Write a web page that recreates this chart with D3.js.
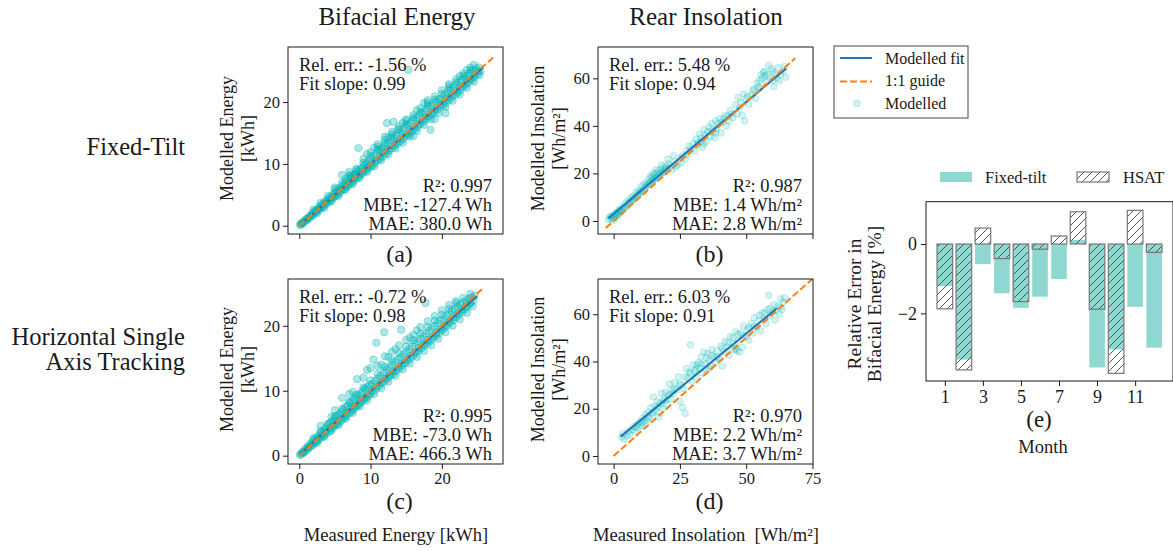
<!DOCTYPE html>
<html>
<head>
<meta charset="utf-8">
<script src="https://cdn.jsdelivr.net/npm/d3@7"></script>
<style>
  body { margin: 0; background: #fff; }
  svg { font-family: "Liberation Serif", "Times New Roman", serif; }
</style>
</head>
<body>
<script>
// ---- data ----

// (a) fixed-tilt bifacial energy [measured kWh, modelled kWh]
const fixedEnergy = [
  [0.1,0.2],[0.2,0.1],[0.3,0.4],[0.4,0.3],[0.6,0.5],[0.7,0.8],[0.9,0.8],[1.0,1.1],[1.2,1.0],[1.3,1.4],[1.5,1.3],[1.6,1.7],[1.8,1.6],[1.9,2.1],[2.1,1.9],[2.2,2.4],[2.4,2.2],[2.5,2.7],[2.7,2.5],[2.8,3.1],[3.0,2.8],[3.1,3.3],[3.3,3.0],[3.4,3.7],[3.6,3.4],[3.7,4.0],[3.9,3.6],[4.0,4.3],[4.2,3.9],[4.3,4.6],[4.5,4.2],[4.6,4.9],[4.8,4.5],[4.9,5.3],[5.1,4.8],
  [5.2,5.5],[5.4,5.0],[5.5,6.0],[5.7,5.4],[5.8,6.2],[6.0,5.7],[6.1,6.6],[6.3,5.9],[6.4,6.9],[6.6,6.2],[6.7,7.2],[6.9,6.5],[7.0,7.5],[7.2,6.8],[7.3,7.8],[7.5,7.1],[7.6,8.2],[7.8,7.4],[7.9,8.4],[8.1,7.7],[8.2,8.8],[8.4,8.0],[8.5,9.1],[8.7,8.3],[8.8,9.4],[9.0,8.6],[9.1,9.8],[9.3,8.9],[9.4,10.1],[9.6,9.2],[9.7,10.4],[9.9,9.5],
  [6.5,7.6],[7.2,8.2],[8.0,9.2],[5.0,6.2],[6.0,8.2],[8.3,12.55],[12.3,16.6],[18.4,15.5],[13.2,16.8],[15.3,25.2],
  [10.0,10.8],[10.2,9.7],[10.4,11.3],[10.6,10.1],[10.8,11.6],[11.0,10.5],[11.2,12.2],[11.4,10.9],[11.6,12.6],[11.8,11.3],[12.0,13.0],[12.2,11.7],[12.4,13.3],[12.6,12.1],[12.8,13.8],[13.0,12.5],[13.2,14.1],[13.4,12.9],[13.6,14.6],[13.8,13.3],[14.0,15.0],[14.2,13.7],[14.4,15.3],[14.6,14.0],[14.8,15.9],[15.0,14.5],[15.2,16.2],[15.4,14.8],[15.6,16.6],[15.8,15.2],[16.0,17.1],[16.2,15.6],[16.4,17.4],[16.6,16.0],[16.8,17.8],[17.0,16.4],[17.2,18.2],[17.4,16.8],[17.6,18.5],[17.8,17.2],[18.0,19.0],[18.2,17.6],[18.4,19.3],[18.6,18.0],[18.8,19.7],[19.0,18.4],[19.2,20.1],[19.4,18.8],[19.6,20.5],[19.8,19.2],
  [9.5,11.6],[10.5,12.6],[11.0,12.8],[12.0,13.9],[12.5,14.3],[13.0,14.8],[14.5,16.6],[15.0,17.0],[16.5,18.7],[17.5,19.8],[18.0,20.3],[13.8,15.6],[11.5,12.3],[16.0,14.5],[19.0,17.2],[20.5,18.2],
  [20.0,20.6],[20.2,19.5],[20.4,21.2],[20.6,19.9],[20.8,21.5],[21.0,20.3],[21.2,21.9],[21.4,20.8],[21.6,22.4],[21.8,21.1],[22.0,22.8],[22.2,21.5],[22.4,23.2],[22.6,21.9],[22.8,23.6],[23.0,22.4],[23.2,24.0],[23.4,22.8],[23.6,24.3],[23.8,23.2],[24.0,24.7],[24.2,23.6],[24.4,25.1],[24.6,24.0],[24.8,25.4],[25.0,24.5],[25.2,25.6],[25.4,25.0],[22.5,24.2],[23.5,25.2],[21.0,22.9],[24.5,26.0],
  [0.5,0.5],[1.1,1.05],[1.7,1.7],[2.3,2.3],[2.9,2.85],[3.5,3.5],[4.1,4.1],[4.7,4.65],[5.3,5.3],[5.9,5.85],[6.5,6.45],[7.1,7.05],[7.7,7.7],[8.3,8.25],[8.9,8.85],[9.5,9.4],[10.1,10.0],[10.7,10.6],[11.3,11.2],[11.9,11.8],[12.5,12.4],[13.1,13.0],[13.7,13.6],[14.3,14.2],[14.9,14.8],[15.5,15.4],[16.1,16.0],[16.7,16.5],[17.3,17.2],[17.9,17.7],[18.5,18.3],[19.1,18.9],[19.7,19.5],[20.3,20.1],[20.9,20.7],[21.5,21.3],[22.1,21.9],[22.7,22.5],[23.3,23.1],[23.9,23.7],[24.5,24.3],[25.1,24.9],
  [2.0,2.6],[3.0,3.7],[4.0,4.8],[5.0,5.9],[6.0,7.0],[7.0,8.1],[8.0,9.0],[9.0,10.2],[10.0,11.3],[11.0,12.3],[12.0,13.4],[13.0,14.4],[14.0,15.5],[15.0,16.4],[16.0,17.5],[17.0,18.4],[18.0,19.5],[19.0,20.4],[20.0,21.3],[21.0,22.2],[22.0,23.2],[23.0,24.2],[24.0,25.2],
  [2.5,2.0],[3.5,2.9],[4.5,3.9],[5.5,4.8],[6.5,5.8],[7.5,6.7],[8.5,7.7],[9.5,8.7],[10.5,9.6],[11.5,10.6],[12.5,11.5],[13.5,12.5],[14.5,13.4],[15.5,14.4],[16.5,15.3],[17.5,16.3],[18.5,17.2],[19.5,18.2],[20.5,19.2],[21.5,20.2],[22.5,21.2],[23.5,22.3],[24.5,23.3],[25.3,24.4],
  [7.0,8.7],[9.0,10.8],[10.0,11.9],[11.0,13.2],[12.0,14.4],[13.0,15.2],[14.0,16.1],[15.0,17.2],[16.0,17.9],[17.0,19.0],[18.0,19.9],[19.0,20.9],[20.0,21.9],[21.0,22.6],[22.0,23.7],[23.0,24.6],[24.0,25.6]
];

// (b) fixed-tilt rear insolation [measured Wh/m², modelled Wh/m²]
const fixedRear = [
  [-2.0,0.5],[-1.5,1.5],[-1.0,0.8],[-0.5,2.2],[0.0,1.2],[0.5,3.0],[1.0,2.0],[1.5,3.8],[2.0,3.0],[2.5,5.0],[3.0,4.0],[3.5,6.2],[4.0,5.5],[4.5,7.5],[5.0,6.5],[5.5,8.5],[6.0,7.6],[6.5,9.8],[7.0,8.8],[7.5,10.5],[8.0,9.6],[8.5,12.0],[9.0,10.8],[9.5,13.0],[10.0,11.8],[10.5,14.5],[11.0,12.6],[11.5,15.5],[12.0,14.2],[12.5,16.5],[13.0,15.2],[13.5,17.8],[14.0,16.3],[14.5,18.5],[15.0,17.2],[15.5,19.5],[16.0,18.0],[16.5,20.5],[17.0,19.2],[17.5,21.5],[18.0,20.0],[18.5,22.2],[19.0,20.5],[19.5,23.0],[20.0,21.5],[20.5,24.0],[21.0,22.3],[21.5,23.2],[22.0,21.5],[23.0,25.0],[23.5,22.8],[24.0,23.5],[25.0,26.5],[25.5,24.5],[26.0,27.5],[27.0,26.0],[27.5,29.5],[28.0,28.0],[28.5,31.5],[29.0,30.0],[30.0,32.5],[30.5,29.5],[31.0,34.5],[32.0,33.0],[32.5,36.5],[33.0,35.0],[33.5,31.0],[34.0,38.5],[34.5,36.0],[35.0,33.5],[36.0,39.5],[36.5,35.5],[37.0,41.0],[37.5,37.5],[38.0,35.0],[38.5,42.0],[39.0,39.0],[40.0,43.0],[40.5,37.0],[41.0,41.5],[42.0,44.5],[42.5,40.0],[43.0,44.0],[44.0,46.5],[45.0,43.5],[46.0,49.0],[46.5,45.0],[47.0,52.0],[48.0,50.0],[48.5,44.5],[49.0,53.5],[49.5,42.0],[50.0,51.5],[51.0,49.0],[52.0,53.0],[53.0,55.5],[53.5,51.5],[54.0,58.0],[55.0,56.0],[55.5,61.5],[56.0,60.0],[57.0,63.0],[57.5,58.5],[58.0,61.5],[58.5,65.5],[59.0,60.5],[60.0,63.0],[60.5,56.5],[61.0,62.0],[62.0,64.5],[62.5,59.0],[63.0,61.5],[64.0,63.0],[64.5,65.0],[65.0,60.5],[20.5,26.0],[22.5,27.5],[18.0,23.5],[16.0,21.5],[15.0,20.0],[14.0,19.0],
  [0.5,1.5],[1.5,2.5],[2.5,3.5],[3.5,4.8],[4.5,5.8],[5.5,7.0],[6.5,8.2],[7.5,9.0],[8.5,10.2],[9.5,11.5],[10.5,12.5],[11.5,13.5],[12.5,14.8],[13.5,15.8],[14.5,16.8],[15.5,17.8],[16.5,18.5],[17.5,19.8],[18.5,20.8],[19.5,21.8],[-1.0,2.0],[0.0,0.2],[1.0,3.2],[2.0,4.5],
  [31.5,32.0],[33.0,33.5],[34.0,32.5],[35.5,37.5],[37.0,38.5],[38.5,37.0],[39.5,41.0],[41.5,43.0],[43.5,42.0],[44.5,45.0],[47.5,47.5],[50.5,52.5],[52.5,55.0],[54.5,56.5],[56.5,62.5],[59.5,64.0],[61.5,60.0],[57.0,61.0],[55.0,59.0],[60.0,59.0]
];

// (c) HSAT bifacial energy [measured kWh, modelled kWh]
const hsatEnergy = [
  [0.1,0.1],[0.2,0.3],[0.4,0.3],[0.5,0.6],[0.7,0.5],[0.8,1.0],[1.0,0.8],[1.1,1.3],[1.3,1.1],[1.4,1.7],[1.6,1.4],[1.7,2.0],[1.9,1.6],[2.0,2.4],[2.2,1.9],[2.3,2.7],[2.5,2.2],[2.6,3.0],[2.8,2.5],[2.9,3.4],[3.1,2.8],[3.2,3.7],[3.4,3.0],[3.5,4.0],[3.7,3.3],[3.8,4.4],[4.0,3.6],[4.1,4.8],[4.3,3.9],[4.4,5.1],[4.6,4.2],[4.7,5.4],[4.9,4.5],[5.0,5.8],[5.2,4.8],
  [5.3,6.1],[5.5,5.0],[5.6,6.4],[5.8,5.3],[5.9,6.7],[6.1,5.6],[6.2,7.1],[6.4,5.9],[6.5,7.5],[6.7,6.2],[6.8,7.7],[7.0,6.5],[7.1,8.1],[7.3,6.8],[7.4,8.4],[7.6,7.1],[7.7,8.7],[7.9,7.4],[8.0,9.0],[8.2,7.7],[8.3,9.3],[8.5,8.0],[8.6,9.6],[8.8,8.3],[8.9,10.0],[9.1,8.6],[9.2,10.3],[9.4,8.9],[9.5,10.6],[9.7,9.2],[9.8,10.9],
  [6.0,8.9],[8.1,11.8],[9.5,13.2],[10.4,14.8],[10.8,17.4],[11.9,19.0],[14.3,19.4],[17.7,23.5],[5.0,7.0],[7.5,9.8],[12.5,15.2],[13.5,16.4],[11.5,14.0],[15.5,18.2],[16.5,19.3],[3.0,4.6],[4.5,6.0],
  [10.0,9.5],[10.2,11.0],[10.4,9.9],[10.6,11.5],[10.8,10.3],[11.0,11.9],[11.2,10.7],[11.4,12.3],[11.6,11.1],[11.8,12.8],[12.0,11.5],[12.2,13.2],[12.4,11.9],[12.6,13.6],[12.8,12.3],[13.0,14.0],[13.2,12.6],[13.4,14.4],[13.6,13.0],[13.8,14.8],[14.0,13.4],[14.2,15.2],[14.4,13.8],[14.6,15.6],[14.8,14.2],[15.0,16.0],[15.2,14.6],[15.4,16.4],[15.6,15.0],[15.8,16.8],[16.0,15.4],[16.2,17.3],[16.4,15.8],[16.6,17.6],[16.8,16.2],[17.0,18.0],[17.2,16.6],[17.4,18.4],[17.6,17.0],[17.8,18.8],[18.0,17.3],[18.2,19.2],[18.4,17.7],[18.6,19.6],[18.8,18.1],[19.0,20.0],[19.2,18.5],[19.4,20.4],[19.6,18.9],[19.8,20.8],[20.0,19.3],[20.2,21.1],[20.4,19.7],[20.6,21.5],[20.8,20.1],[21.0,21.9],[21.2,20.5],[21.4,22.3],[21.6,20.9],[21.8,22.6],[22.0,21.3],[22.2,23.0],[22.4,21.7],[22.6,23.3],[22.8,22.1],[23.0,23.6],[23.2,22.5],[23.4,23.9],[23.6,22.9],[23.8,24.2],[24.0,23.4],[24.2,24.4],[24.4,23.8],[24.6,24.6],
  [0.6,0.6],[1.2,1.2],[1.8,1.8],[2.4,2.4],[3.0,3.0],[3.6,3.6],[4.2,4.2],[4.8,4.8],[5.4,5.4],[6.0,6.0],[6.6,6.6],[7.2,7.2],[7.8,7.7],[8.4,8.3],[9.0,8.9],[9.6,9.5],[10.2,10.1],[10.8,10.7],[11.4,11.3],[12.0,11.9],[12.6,12.4],[13.2,13.0],[13.8,13.6],[14.4,14.2],[15.0,14.8],[15.6,15.4],[16.2,16.0],[16.8,16.6],[17.4,17.2],[18.0,17.8],[18.6,18.3],[19.2,18.9],[19.8,19.5],[20.4,20.1],[21.0,20.7],[21.6,21.3],[22.2,21.9],[22.8,22.5],[23.4,23.0],[24.0,23.6],
  [2.0,2.7],[3.0,3.8],[4.0,4.9],[5.0,6.1],[6.0,7.2],[7.0,8.3],[8.0,9.4],[9.0,10.5],[10.0,11.6],[11.0,12.6],[12.0,13.7],[13.0,14.7],[14.0,15.8],[15.0,16.8],[16.0,17.8],[17.0,18.8],[18.0,19.8],[19.0,20.8],[20.0,21.7],[21.0,22.6],[22.0,23.5],[23.0,24.3],[24.0,24.9],
  [2.5,2.0],[3.5,2.9],[4.5,3.8],[5.5,4.7],[6.5,5.7],[7.5,6.6],[8.5,7.6],[9.5,8.5],[10.5,9.5],[11.5,10.4],[12.5,11.4],[13.5,12.3],[14.5,13.3],[15.5,14.2],[16.5,15.2],[17.5,16.1],[18.5,17.0],[19.5,18.0],[20.5,19.0],[21.5,20.0],[22.5,21.0],[23.5,22.0],[24.3,23.0],
  [7.0,9.5],[9.0,12.0],[10.0,13.5],[11.0,13.8],[12.0,15.3],[13.0,16.0],[14.0,17.0],[15.0,17.8],[16.0,18.6],[17.0,19.8],[18.0,20.7],[19.0,21.5],[20.0,22.4],[21.0,23.2],[22.0,23.8]
];

// (d) HSAT rear insolation [measured Wh/m², modelled Wh/m²]
const hsatRear = [
  [3.0,8.0],[3.5,9.5],[4.0,7.0],[5.0,8.5],[5.5,10.5],[6.0,9.0],[7.0,11.0],[7.5,12.5],[8.0,10.5],[9.0,13.5],[9.5,12.0],[10.0,14.5],[10.5,13.0],[11.0,16.0],[11.5,14.5],[12.0,17.5],[12.5,15.0],[13.0,18.5],[13.5,16.5],[14.0,20.5],[14.5,18.0],[15.0,25.0],[15.5,21.0],[16.0,19.0],[16.5,23.0],[17.0,16.5],[17.5,22.5],[18.0,26.5],[18.5,20.0],[19.0,24.0],[19.5,27.0],[20.0,22.0],[20.5,25.5],[21.0,30.5],[21.5,24.0],[22.0,28.0],[22.5,26.5],[23.0,31.0],[24.0,28.0],[24.5,33.5],[25.0,23.0],[25.5,30.0],[26.0,20.5],[26.5,28.5],[27.0,18.0],[27.5,37.0],[28.0,33.0],[28.5,35.5],[29.0,47.0],[29.5,31.5],[30.0,38.5],[30.5,36.0],[31.0,33.5],[32.0,39.5],[32.5,37.0],[33.0,42.0],[33.5,35.0],[34.0,44.0],[34.5,39.0],[35.0,36.5],[35.5,43.5],[36.0,40.5],[36.5,38.0],[37.0,45.0],[38.0,42.0],[38.5,39.5],[39.0,44.5],[40.0,41.0],[40.5,46.5],[41.0,38.0],[41.5,44.0],[42.0,48.5],[43.0,46.0],[43.5,42.5],[44.0,50.5],[45.0,47.5],[45.5,45.0],[46.0,52.5],[46.5,44.5],[47.0,49.0],[48.0,52.0],[48.5,46.0],[49.0,55.0],[50.0,50.5],[50.5,53.5],[51.0,49.0],[52.0,56.0],[52.5,52.0],[53.0,58.5],[54.0,54.5],[55.0,57.5],[55.5,53.0],[56.0,60.5],[57.0,58.0],[57.5,56.0],[58.0,62.0],[58.5,68.0],[59.0,59.5],[60.0,61.0],[60.5,64.0],[61.0,57.5],[62.0,63.5],[62.5,60.0],[63.0,66.5],[63.5,62.0],[64.0,65.0],[64.5,67.0],
  [8.5,12.0],[11.0,14.0],[13.0,16.0],[15.0,18.5],[16.5,20.5],[18.0,22.0],[19.5,23.5],[21.0,26.0],[23.0,28.5],[25.0,30.5],[27.0,33.5],[29.0,35.0],[31.0,37.0],[33.0,39.0],[35.0,41.5],[37.0,42.5],[39.0,42.0],[41.0,45.5],[43.0,48.0],[45.0,50.0],[47.0,51.5],[49.0,51.0],[51.0,54.5],[53.0,55.0],[55.0,59.5],[57.0,60.5],[59.0,62.5],[61.0,61.5],[63.0,63.0],[46.0,45.5],[47.5,44.0],[36.0,37.0],[31.5,38.5]
];

// fitted line [slope, intercept, xStart, xEnd] and 1:1 guide extent, per panel a-d
const fitLines = [[0.99, 0.05, 0, 25.8], [0.94, 3.0, -2, 65], [0.98, 0.15, 0, 24.9], [0.92, 5.8, 2.6, 61.5]];
const guideExtent = [[0, 27.2], [-3, 68.5], [0, 25.9], [0, 76]];

const relErr = ['-1.56', '5.48', '-0.72', '6.03'];
const fitSlope = ['0.99', '0.94', '0.98', '0.91'];
const r2 = ['0.997', '0.987', '0.995', '0.970'];
const mbe = ['-127.4 Wh', '1.4 Wh/m²', '-73.0 Wh', '2.2 Wh/m²'];
const mae = ['380.0 Wh', '2.8 Wh/m²', '466.3 Wh', '3.7 Wh/m²'];

const energyTicks = [0, 10, 20];
const insolTicks = [0, 20, 40, 60];
const insolXTicks = [0, 25, 50, 75];

// (e) monthly relative error in bifacial energy [%]
const months = [1, 2, 3, 4, 5, 6, 7, 8, 9, 10, 11, 12];
const fixedTiltErr = [-1.21, -3.33, -0.58, -1.42, -1.84, -1.52, -1.01, 0.12, -3.56, -3.04, -1.81, -2.99];
const hsatErr = [-1.87, -3.63, 0.46, -0.42, -1.66, -0.15, 0.23, 0.93, -1.88, -3.73, 0.97, -0.24];
const monthTicks = [1, 3, 5, 7, 9, 11];
const errTicks = [0, -2];

// ---- drawing ----
const w = 1173, h = 551;
const ink = '#1a1a1a';
const dotColor = '#00b5b5';

const svg = d3.select('body').append('svg')
    .attr('width', w)
    .attr('height', h);

const defs = svg.append('defs');
const hatch = defs.append('pattern')
    .attr('id', 'hatch')
    .attr('patternUnits', 'userSpaceOnUse')
    .attr('width', 8).attr('height', 8);
hatch.append('path')
    .attr('d', 'M-2,2 L2,-2 M0,8 L8,0 M6,10 L10,6')
    .attr('stroke', '#555').attr('stroke-width', 1);

const panels = [
    { pts: fixedEnergy, x0: 288, x1: 503, y0: 47, y1: 234, xd: [-1.58, 28.57], yd: [-1.34, 28.9], xt: energyTicks, yt: energyTicks, xlab: false },
    { pts: fixedRear, x0: 598, x1: 813, y0: 47, y1: 234, xd: [-5.9, 75.2], yd: [-5.5, 73.2], xt: insolXTicks, yt: insolTicks, xlab: false },
    { pts: hsatEnergy, x0: 288, x1: 503, y0: 279, y1: 464, xd: [-1.58, 28.57], yd: [-1.28, 27.2], xt: energyTicks, yt: energyTicks, xlab: true },
    { pts: hsatRear, x0: 598, x1: 813, y0: 279, y1: 464, xd: [-5.9, 75.2], yd: [-3.4, 74.9], xt: insolXTicks, yt: insolTicks, xlab: true }
];
const letters = ['(a)', '(b)', '(c)', '(d)'];

panels.forEach((p, i) => {
    const xScale = d3.scaleLinear().domain(p.xd).range([p.x0, p.x1]);
    const yScale = d3.scaleLinear().domain(p.yd).range([p.y1, p.y0]);
    const isEnergy = i % 2 === 0;

    defs.append('clipPath').attr('id', 'clip' + i)
        .append('rect')
        .attr('x', p.x0).attr('y', p.y0)
        .attr('width', p.x1 - p.x0).attr('height', p.y1 - p.y0);

    const g = svg.append('g').attr('clip-path', 'url(#clip' + i + ')');

    g.selectAll('circle')
        .data(p.pts)
        .enter()
        .append('circle')
        .attr('cx', d => xScale(d[0]))
        .attr('cy', d => yScale(d[1]))
        .attr('r', isEnergy ? 3.7 : 3.3)
        .attr('fill', dotColor)
        .attr('fill-opacity', isEnergy ? 0.32 : 0.17)
        .attr('stroke', dotColor)
        .attr('stroke-opacity', isEnergy ? 0.4 : 0.25)
        .attr('stroke-width', 0.8);

    const f = fitLines[i];
    g.append('line')
        .attr('x1', xScale(f[2])).attr('y1', yScale(f[0] * f[2] + f[1]))
        .attr('x2', xScale(f[3])).attr('y2', yScale(f[0] * f[3] + f[1]))
        .attr('stroke', '#1f77b4').attr('stroke-width', 2);

    const ge = guideExtent[i];
    g.append('line')
        .attr('x1', xScale(ge[0])).attr('y1', yScale(ge[0]))
        .attr('x2', xScale(ge[1])).attr('y2', yScale(ge[1]))
        .attr('stroke', '#ff7f0e').attr('stroke-width', 2)
        .attr('stroke-dasharray', '7,3');

    // frame
    svg.append('rect')
        .attr('x', p.x0).attr('y', p.y0)
        .attr('width', p.x1 - p.x0).attr('height', p.y1 - p.y0)
        .attr('fill', 'none').attr('stroke', ink).attr('stroke-width', 1);

    const xAxis = d3.axisBottom(xScale).tickValues(p.xt).tickSize(5).tickPadding(3);
    if (!p.xlab) xAxis.tickFormat('');
    const yAxis = d3.axisLeft(yScale).tickValues(p.yt).tickSize(5).tickPadding(3);

    const gx = svg.append('g')
        .attr('transform', 'translate(0,' + p.y1 + ')')
        .call(xAxis);
    const gy = svg.append('g')
        .attr('transform', 'translate(' + p.x0 + ',0)')
        .call(yAxis);
    [gx, gy].forEach(a => {
        a.select('.domain').remove();
        a.selectAll('line').attr('stroke', ink);
        a.selectAll('text').attr('fill', ink).style('font-size', '16.5px')
            .style('font-family', '"Liberation Serif", serif');
    });

    // stats
    const tl = svg.append('text').attr('fill', ink).style('font-size', '18.5px');
    tl.append('tspan').attr('x', p.x0 + 11).attr('y', p.y0 + 24).text('Rel. err.: ' + relErr[i] + ' %');
    tl.append('tspan').attr('x', p.x0 + 11).attr('y', p.y0 + 43).text('Fit slope: ' + fitSlope[i]);

    const br = svg.append('text').attr('fill', ink).style('font-size', '18.5px').attr('text-anchor', 'end');
    const rx = p.x1 - 11;
    br.append('tspan').attr('x', rx).attr('y', p.y1 - 42).text('R²: ' + r2[i]);
    br.append('tspan').attr('x', rx).attr('y', p.y1 - 23).text('MBE: ' + mbe[i]);
    br.append('tspan').attr('x', rx).attr('y', p.y1 - 4.5).text('MAE: ' + mae[i]);

    svg.append('text')
        .attr('x', (p.x0 + p.x1) / 2 + 4)
        .attr('y', p.xlab ? p.y1 + 45 : p.y1 + 28)
        .attr('text-anchor', 'middle').attr('fill', ink)
        .style('font-size', '24px')
        .text(letters[i]);

    // y labels
    const cy = (p.y0 + p.y1) / 2 - 2;
    const lx = isEnergy ? p.x0 - 55 : p.x0 - 54;
    const yl = svg.append('text')
        .attr('transform', 'translate(' + lx + ',' + cy + ') rotate(-90)')
        .attr('text-anchor', 'middle').attr('fill', ink)
        .style('font-size', '18px');
    yl.append('tspan').attr('x', 0).attr('y', 0).text(isEnergy ? 'Modelled Energy' : 'Modelled Insolation');
    yl.append('tspan').attr('x', 0).attr('y', 21).text(isEnergy ? '[kWh]' : '[Wh/m²]');
});

// column titles / row titles / x labels
const titleStyle = (sel, size) => sel.attr('fill', ink).style('font-size', size + 'px');
titleStyle(svg.append('text').attr('x', 397).attr('y', 25).attr('text-anchor', 'middle').text('Bifacial Energy'), 25);
titleStyle(svg.append('text').attr('x', 706).attr('y', 25).attr('text-anchor', 'middle').text('Rear Insolation'), 25);
titleStyle(svg.append('text').attr('x', 185).attr('y', 155).attr('text-anchor', 'end').text('Fixed-Tilt'), 24.5);
titleStyle(svg.append('text').attr('x', 185).attr('y', 345).attr('text-anchor', 'end').text('Horizontal Single'), 24.5);
titleStyle(svg.append('text').attr('x', 185).attr('y', 370).attr('text-anchor', 'end').text('Axis Tracking'), 24.5);
titleStyle(svg.append('text').attr('x', 396).attr('y', 541).attr('text-anchor', 'middle').text('Measured Energy [kWh]'), 18.6);
titleStyle(svg.append('text').attr('x', 706).attr('y', 541).attr('text-anchor', 'middle')
    .attr('xml:space', 'preserve').style('white-space', 'pre').text('Measured Insolation  [Wh/m²]'), 18.6);

// scatter legend
const lg = svg.append('g');
lg.append('rect').attr('x', 834).attr('y', 46).attr('width', 134).attr('height', 72)
    .attr('fill', '#fff').attr('stroke', '#444').attr('stroke-width', 1);
lg.append('line').attr('x1', 840).attr('x2', 872).attr('y1', 58).attr('y2', 58)
    .attr('stroke', '#1f77b4').attr('stroke-width', 2);
lg.append('line').attr('x1', 840).attr('x2', 872).attr('y1', 81.5).attr('y2', 81.5)
    .attr('stroke', '#ff7f0e').attr('stroke-width', 2).attr('stroke-dasharray', '7,3');
lg.append('circle').attr('cx', 857).attr('cy', 103.5).attr('r', 3.3)
    .attr('fill', dotColor).attr('fill-opacity', 0.17)
    .attr('stroke', dotColor).attr('stroke-opacity', 0.25);
['Modelled fit', '1:1 guide', 'Modelled'].forEach((t, k) => {
    lg.append('text').attr('x', 885).attr('y', 63.5 + k * 22.5).attr('fill', ink)
        .style('font-size', '16px').text(t);
});

// ---- (e) monthly bars ----
const bx0 = 926, bx1 = 1173, by0 = 201.7, by1 = 381;
const xBar = d3.scaleLinear().domain([0.01, 12.99]).range([bx0, bx1]);
const yBar = d3.scaleLinear().domain([-3.95, 1.22]).range([by1, by0]);
const bw = 0.82;

svg.append('g').selectAll('rect')
    .data(months)
    .enter()
    .append('rect')
    .attr('x', (d) => xBar(d - bw / 2))
    .attr('width', xBar(bw) - xBar(0))
    .attr('y', (d, k) => yBar(Math.max(0, fixedTiltErr[k])))
    .attr('height', (d, k) => Math.abs(yBar(fixedTiltErr[k]) - yBar(0)))
    .attr('fill', '#8fd8d2');

svg.append('g').selectAll('rect')
    .data(months)
    .enter()
    .append('rect')
    .attr('x', (d) => xBar(d - bw / 2))
    .attr('width', xBar(bw) - xBar(0))
    .attr('y', (d, k) => yBar(Math.max(0, hsatErr[k])))
    .attr('height', (d, k) => Math.abs(yBar(hsatErr[k]) - yBar(0)))
    .attr('fill', 'url(#hatch)')
    .attr('stroke', '#777').attr('stroke-width', 1.2);

svg.append('rect')
    .attr('x', bx0).attr('y', by0)
    .attr('width', bx1 - bx0).attr('height', by1 - by0)
    .attr('fill', 'none').attr('stroke', ink).attr('stroke-width', 1);

const bxAxis = svg.append('g').attr('transform', 'translate(0,' + by1 + ')')
    .call(d3.axisBottom(xBar).tickValues(monthTicks).tickSize(5).tickPadding(4));
const byAxis = svg.append('g').attr('transform', 'translate(' + bx0 + ',0)')
    .call(d3.axisLeft(yBar).tickValues(errTicks).tickSize(5).tickPadding(4)
        .tickFormat(d => d < 0 ? '\u2212' + Math.abs(d) : d));
[bxAxis, byAxis].forEach(a => {
    a.select('.domain').remove();
    a.selectAll('line').attr('stroke', ink);
    a.selectAll('text').attr('fill', ink).style('font-size', '18px')
        .style('font-family', '"Liberation Serif", serif');
});

titleStyle(svg.append('text').attr('x', 1039).attr('y', 427).attr('text-anchor', 'middle').text('(e)'), 23);
titleStyle(svg.append('text').attr('x', 1043).attr('y', 453).attr('text-anchor', 'middle').text('Month'), 18.5);

const eyl = svg.append('text')
    .attr('transform', 'translate(861,' + 304 + ') rotate(-90)')
    .attr('text-anchor', 'middle').attr('fill', ink)
    .style('font-size', '19.5px');
eyl.append('tspan').attr('x', 0).attr('y', 0).text('Relative Error in');
eyl.append('tspan').attr('x', 0).attr('y', 20).text('Bifacial Energy [%]');

// bar legend
svg.append('rect').attr('x', 940).attr('y', 172).attr('width', 32).attr('height', 10).attr('fill', '#8fd8d2');
svg.append('rect').attr('x', 1077).attr('y', 172).attr('width', 32).attr('height', 10)
    .attr('fill', 'url(#hatch)').attr('stroke', '#777').attr('stroke-width', 1.2);
titleStyle(svg.append('text').attr('x', 985).attr('y', 183).text('Fixed-tilt'), 16.5);
titleStyle(svg.append('text').attr('x', 1123).attr('y', 183).text('HSAT'), 16.5);
</script>
</body>
</html>
